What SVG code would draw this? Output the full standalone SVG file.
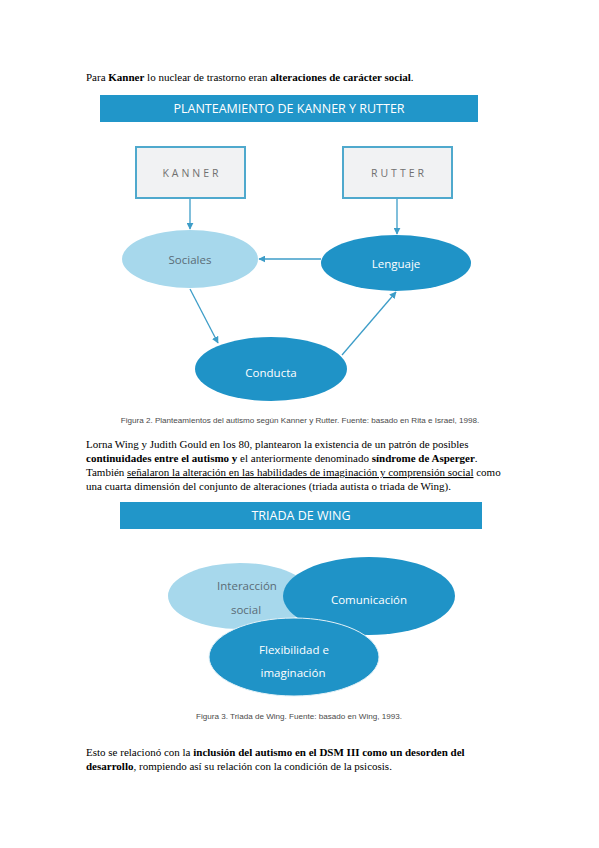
<svg xmlns="http://www.w3.org/2000/svg" width="599" height="848" viewBox="0 0 599 848">
<style>
.body{font-family:"Liberation Serif","Times New Roman",serif;font-size:11px;fill:#000}
.b{font-weight:bold}
.u{text-decoration:underline}
.banner{fill:#2196c9}
.btitle{font-family:"Open Sans","Liberation Sans",sans-serif;font-size:12.5px;fill:#fff;text-anchor:middle}
.box{fill:#f1f2f3;stroke:#4fa9cd;stroke-width:2}
.boxt{font-family:"Open Sans","Liberation Sans",sans-serif;font-size:10.5px;fill:#707070;letter-spacing:3px;text-anchor:middle}
.light{fill:#a7d8ec}
.dark{fill:#1f93c7}
.lt{font-family:"Open Sans","Liberation Sans",sans-serif;font-size:11.5px;fill:#5a6c76;text-anchor:middle}
.dt{font-family:"Open Sans","Liberation Sans",sans-serif;font-size:11.5px;fill:#fff;text-anchor:middle}
.cap{font-family:"Liberation Sans",Arial,sans-serif;font-size:8.1px;fill:#4a4a4a;text-anchor:middle}
.conn{stroke:#3d9dc8;stroke-width:1.3;fill:none;marker-end:url(#ah)}
</style>
<defs>
<marker id="ah" viewBox="0 0 10 10" refX="9" refY="5" markerWidth="7" markerHeight="7" markerUnits="userSpaceOnUse" orient="auto">
<path d="M0,0 L10,5 L0,10 z" fill="#3d9dc8"/>
</marker>
</defs>
<rect width="599" height="848" fill="#fff"/>

<text class="body" x="86" y="81">Para <tspan class="b">Kanner</tspan> lo nuclear de trastorno eran <tspan class="b">alteraciones de carácter social</tspan>.</text>

<g id="fig2-banner">
<rect class="banner" x="100" y="95" width="378" height="27"/>
<text class="btitle" x="289" y="113">PLANTEAMIENTO DE KANNER Y RUTTER</text>
</g>
<g id="kanner">
<rect class="box" x="136" y="147" width="109" height="51"/>
<text class="boxt" x="192" y="177">KANNER</text>
</g>
<g id="rutter">
<rect class="box" x="343" y="147" width="109" height="51"/>
<text class="boxt" x="399" y="177">RUTTER</text>
</g>
<g id="sociales">
<ellipse class="light" cx="190" cy="259" rx="68" ry="29"/>
<text class="lt" x="190" y="264">Sociales</text>
</g>
<g id="lenguaje">
<ellipse class="dark" cx="396" cy="263" rx="75" ry="28"/>
<text class="dt" x="396" y="268">Lenguaje</text>
</g>
<g id="conducta">
<ellipse class="dark" cx="271" cy="369" rx="76" ry="32"/>
<text class="dt" x="271" y="377">Conducta</text>
</g>
<g id="connectors">
<line class="conn" x1="190" y1="199" x2="190" y2="229"/>
<line class="conn" x1="397" y1="199" x2="397" y2="234"/>
<line class="conn" x1="321" y1="259" x2="259" y2="259"/>
<line class="conn" x1="190" y1="289" x2="218" y2="343"/>
<line class="conn" x1="342" y1="355" x2="396" y2="292"/>
</g>
<text class="cap" x="300" y="423">Figura 2. Planteamientos del autismo según Kanner y Rutter. Fuente: basado en Rita e Israel, 1998.</text>

<text class="body" x="86" y="448">Lorna Wing y Judith Gould en los 80, plantearon la existencia de un patrón de posibles</text>
<text class="body" x="86" y="462"><tspan class="b">continuidades entre el autismo y</tspan> el anteriormente denominado <tspan class="b">síndrome de Asperger</tspan>.</text>
<text class="body" x="86" y="476">También <tspan class="u">señalaron la alteración en las habilidades de imaginación y comprensión social</tspan> como</text>
<text class="body" x="86" y="490">una cuarta dimensión del conjunto de alteraciones (triada autista o triada de Wing).</text>

<g id="fig3-banner">
<rect class="banner" x="120" y="502" width="362" height="27"/>
<text class="btitle" x="301" y="520">TRIADA DE WING</text>
</g>
<g id="interaccion">
<ellipse class="light" cx="240" cy="596" rx="72" ry="33"/>
<text class="lt" x="247" y="590">Interacción</text>
<text class="lt" x="246" y="614">social</text>
</g>
<g id="comunicacion">
<ellipse class="dark" cx="369" cy="596" rx="86" ry="39"/>
<text class="dt" x="369" y="604">Comunicación</text>
</g>
<g id="flexibilidad">
<ellipse class="dark" cx="294" cy="657" rx="85" ry="39" stroke="#e4f2f8" stroke-width="1"/>
<text class="dt" x="294" y="654">Flexibilidad e</text>
<text class="dt" x="293" y="677">imaginación</text>
</g>
<text class="cap" x="299" y="719">Figura 3. Triada de Wing. Fuente: basado en Wing, 1993.</text>

<text class="body" x="86" y="756">Esto se relacionó con la <tspan class="b">inclusión del autismo en el DSM III como un desorden del</tspan></text>
<text class="body" x="86" y="770"><tspan class="b">desarrollo</tspan>, rompiendo así su relación con la condición de la psicosis.</text>
</svg>
